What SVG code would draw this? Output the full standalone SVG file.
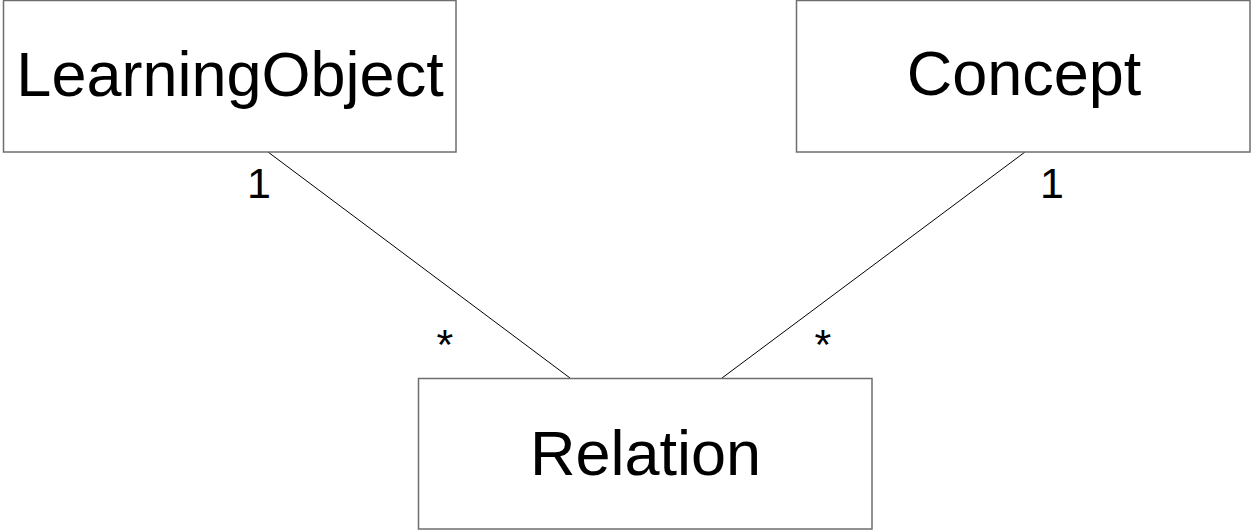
<svg xmlns="http://www.w3.org/2000/svg" width="1251" height="532" viewBox="0 0 1251 532">
<style>
.box{fill:#fff;stroke:#6e6e6e;stroke-width:1.5}
.name{font-family:"Liberation Sans",Arial,sans-serif;font-size:63px;fill:#000;text-anchor:middle}
.mult{font-family:"Liberation Sans",Arial,sans-serif;font-size:43px;fill:#000}
.conn{stroke:#000;stroke-width:1;fill:none}
</style>
<rect width="1251" height="532" fill="#fff"/>
<g id="connectors">
<line class="conn" x1="268" y1="152" x2="570" y2="378"/>
<line class="conn" x1="1025" y1="152" x2="722" y2="378"/>
<text class="mult" x="247" y="198">1</text>
<text class="mult" x="436.5" y="359">*</text>
<text class="mult" x="1040" y="198">1</text>
<text class="mult" x="814.5" y="359">*</text>
</g>
<g id="learningobject">
<rect class="box" x="3.5" y="0.5" width="452.5" height="151.5"/>
<text class="name" x="230" y="96">LearningObject</text>
</g>
<g id="concept">
<rect class="box" x="796.5" y="0.5" width="453.5" height="151.5"/>
<text class="name" x="1024" y="95">Concept</text>
</g>
<g id="relation">
<rect class="box" x="418.5" y="378.5" width="453.5" height="150.5"/>
<text class="name" x="645.5" y="475">Relation</text>
</g>
</svg>
